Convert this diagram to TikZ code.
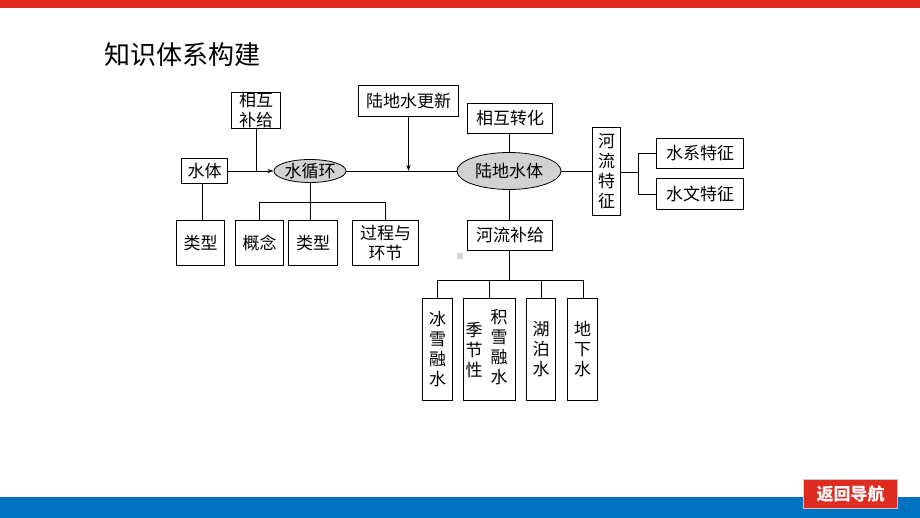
\documentclass[tikz,border=0pt]{standalone}
\usepackage{fontspec}
\setmainfont{Noto Sans CJK SC}
\usetikzlibrary{arrows.meta,shapes.geometric}
\definecolor{topred}{RGB}{224,43,32}
\definecolor{botblue}{RGB}{0,112,192}
\definecolor{ellgray}{RGB}{210,210,210}
\tikzset{
  bx/.style={draw=black,line width=1pt,fill=white,inner sep=0pt,anchor=north west,font=\fontsize{17}{20}\selectfont},
  vbx/.style={bx,align=center,font=\fontsize{17}{20}\selectfont},
  ell/.style={draw=black,line width=0.8pt,fill=ellgray,ellipse,inner sep=0pt,font=\fontsize{17}{20}\selectfont},
  ln/.style={draw=black,line width=0.9pt},
  arr/.style={ln,-{Stealth[length=6pt,width=4pt]}}
}
\begin{document}
\begin{tikzpicture}[x=1pt,y=-1pt]
\useasboundingbox (0,0) rectangle (920,518);
\fill[white] (0,0) rectangle (920,518);
\fill[topred] (0,0) rectangle (920,8);
\fill[botblue] (0,497) rectangle (920,518);
\node[anchor=west,font=\fontsize{26}{30}\selectfont,inner sep=0pt] (title) at (104,55) {知识体系构建};
% button
\node[draw={rgb,255:red,200;green,200;blue,200},line width=1pt,fill=topred,text=white,font=\fontsize{17}{20}\selectfont\bfseries,minimum width=94pt,minimum height=29pt,inner sep=0pt,anchor=north west] (btn) at (803,479) {返回导航};
% small gray square
\fill[ellgray] (457,253) rectangle (463,259);
% boxes
\node[vbx,minimum width=49pt,minimum height=36pt] (hxbj) at (231,92) {相互\\补给};
\node[bx,minimum width=46pt,minimum height=25pt] (st) at (181,158) {水体};
\node[bx,minimum width=48pt,minimum height=45pt] (lx1) at (176,220) {类型};
\node[bx,minimum width=48pt,minimum height=45pt] (gn) at (235,220) {概念};
\node[bx,minimum width=49pt,minimum height=45pt] (lx2) at (288,220) {类型};
\node[vbx,minimum width=66pt,minimum height=45pt] (gc) at (352,220) {过程与\\环节};
\node[ell,minimum width=66pt,minimum height=23pt] (sxh) at (310,171) {水循环};
\node[bx,minimum width=100pt,minimum height=31pt] (gx) at (358,85) {陆地水更新};
\node[bx,minimum width=85pt,minimum height=30pt] (xhzh) at (467,103) {相互转化};
\node[ell,minimum width=104pt,minimum height=37pt] (ldst) at (509,171) {陆地水体};
\node[bx,minimum width=85pt,minimum height=30pt] (hlbj) at (467,220) {河流补给};
\node[vbx,minimum width=28pt,minimum height=88pt] (hltz) at (592,127) {河\\流\\特\\征};
\node[bx,minimum width=87pt,minimum height=30pt] (sx) at (656,138) {水系特征};
\node[bx,minimum width=87pt,minimum height=31pt] (sw) at (656,178) {水文特征};
\node[vbx,minimum width=30pt,minimum height=102pt] (bx1) at (422,298) {冰\\雪\\融\\水};
\node[bx,minimum width=52pt,minimum height=102pt] (bx2) at (463,298) {};
\node[align=center,font=\fontsize{17}{20}\selectfont,inner sep=0pt] (jj1) at (474,350) {季\\节\\性};
\node[align=center,font=\fontsize{17}{20}\selectfont,inner sep=0pt] (jj2) at (499,347) {积\\雪\\融\\水};
\node[vbx,minimum width=29pt,minimum height=102pt] (bx3) at (526,298) {湖\\泊\\水};
\node[vbx,minimum width=30pt,minimum height=102pt] (bx4) at (567,298) {地\\下\\水};
% coordinates
\coordinate (j1) at (hxbj.south |- sxh.west);
\coordinate (j2) at (gx.south |- sxh.east);
\coordinate (c1) at (sxh.south |- 0,202);
\coordinate (c2) at (ldst.south |- 0,280);
\coordinate (c3) at (638,172);
% connectors
\draw[arr] (st.east |- sxh.west) -- (sxh.west);
\draw[ln] (hxbj.south) -- (j1);
\draw[ln] (st.south -| 202,0) -- (lx1.north -| 202,0);
\draw[ln] (sxh.east) -- (ldst.west);
\draw[arr] (gx.south) -- (j2);
\draw[ln] (sxh.south) -- (c1);
\draw[ln] (gn.north |- c1) -- (gn.north);
\draw[ln] (gn.north |- c1) -- (gc.north |- c1) -- (gc.north);
\draw[ln] (c1) -- (lx2.north -| c1);
\draw[ln] (ldst.north |- xhzh.south) -- (ldst.north);
\draw[ln] (ldst.south) -- (hlbj.north -| ldst.south);
\draw[ln] (ldst.east) -- (hltz.west |- ldst.east);
\draw[ln] (hltz.east |- c3) -- (c3);
\draw[ln] (sx.west) -| (c3) |- (sw.west);
\draw[ln] (hlbj.south -| ldst.south) -- (c2);
\draw[ln] (bx1.north |- c2) -- (bx1.north);
\draw[ln] (bx1.north |- c2) -- (583,280) -- (583,298);
\draw[ln] (489,280) -- (489,298);
\draw[ln] (541,280) -- (541,298);
\end{tikzpicture}
\end{document}
